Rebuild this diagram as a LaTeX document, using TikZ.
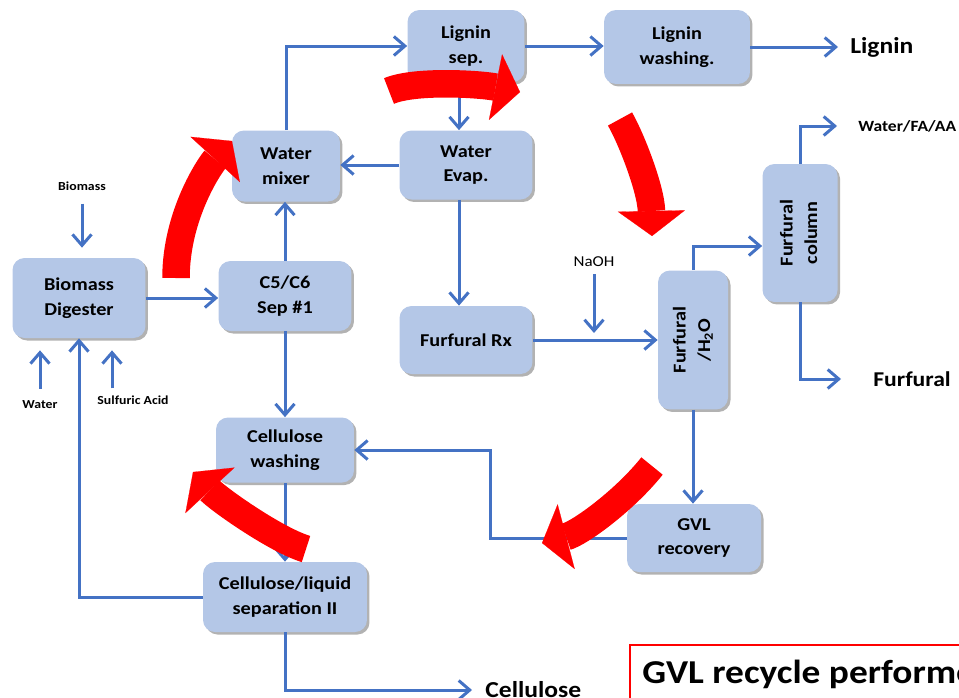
\documentclass[tikz,border=0pt]{standalone}
\usepackage{fontspec}
\setmainfont{Carlito}[FakeStretch=1.12]
\usepackage{graphicx}
\usetikzlibrary{arrows.meta,shadows}
\definecolor{pfill}{HTML}{B4C7E7}
\definecolor{pline}{HTML}{4472C4}
\tikzset{
  unit/.style   = {fill=pfill, rounded corners=2.4mm, align=center, inner sep=1pt,
                   font=\fontsize{10.3}{14}\selectfont\bfseries,
                   drop shadow={shadow xshift=0.5mm, shadow yshift=-0.5mm,
                                opacity=0.3, fill=black}},
  flow/.style   = {-{Straight Barb[length=2.2mm,width=3.8mm]}, pline, line width=0.6mm},
  recyc/.style  = {red, line width=5.5mm,
                   -{Triangle[length=5mm,width=13.4mm,line width=0.1pt]}},
  inlbl/.style  = {inner sep=0pt, font=\fontsize{7}{8}\selectfont\bfseries},
  outlbl/.style = {inner sep=0pt, anchor=west, font=\fontsize{13}{15}\selectfont\bfseries},
}
\begin{document}
\begin{tikzpicture}[x=0.02cm,y=-0.02cm]
\useasboundingbox (0,0) rectangle (959,697);
\clip (0,0) rectangle (959,697);
% process units
\node[unit, minimum width=26.6mm, minimum height=16mm]   (dig)   at (79,298)  {Biomass\\Digester};
\node[unit, minimum width=26.6mm, minimum height=14mm]   (sep1)  at (285,296) {C5/C6\\Sep \#1};
\node[unit, minimum width=21.6mm, minimum height=14.2mm] (mix)   at (286,166) {Water\\mixer};
\node[unit, minimum width=23.4mm, minimum height=14.4mm] (lsep)  at (466,46)  {Lignin\\sep.};
\node[unit, minimum width=29.2mm, minimum height=14.8mm] (lwash) at (677,47)  {Lignin\\washing.};
\node[unit, minimum width=26.6mm, minimum height=13.8mm] (evap)  at (466,165) {Water\\Evap.};
\node[unit, minimum width=26.6mm, minimum height=13.6mm] (frx)   at (466,340) {Furfural Rx};
\node[unit, minimum width=14mm, minimum height=27.8mm]   (fh2o)  at (693,340)
  {\rotatebox{90}{\begin{tabular}{@{}c@{}}Furfural\\/H\textsubscript{2}O\end{tabular}}};
\node[unit, minimum width=15mm, minimum height=27.6mm]   (fcol)  at (800,233)
  {\rotatebox{90}{\begin{tabular}{@{}c@{}}Furfural\\column\end{tabular}}};
\node[unit, minimum width=26.8mm, minimum height=13.6mm] (gvl)   at (694,538) {GVL\\recovery};
\node[unit, minimum width=27.6mm, minimum height=13mm]   (cwash) at (285,450) {Cellulose\\washing};
\node[unit, minimum width=32.8mm, minimum height=14mm]   (clsep) at (285,597) {Cellulose/liquid\\separation II};
% feeds and products
\node[inlbl] (bio)  at (82,186)  {Biomass};
\node[inlbl] (wat)  at (40,405)  {Water};
\node[inlbl] (sulf) at (133,400) {Sulfuric Acid};
\node[inner sep=0pt, font=\fontsize{8.6}{10}\selectfont] (naoh) at (594,262) {NaOH};
\node[outlbl] (lig)  at (850,47)  {Lignin};
\node[outlbl, font=\fontsize{8.9}{10}\selectfont\bfseries] (wfa) at (858,126) {Water/FA/AA};
\node[outlbl, font=\fontsize{12}{14}\selectfont\bfseries] (furf) at (873,379) {Furfural};
\node[outlbl] (cell) at (485,690) {Cellulose};
% streams
\draw[flow, shorten <=2.6mm, shorten >=2mm] (bio.south) -- (bio.south |- dig.north);
\draw[flow, shorten <=2.4mm, shorten >=2.4mm] (wat.north) -- (wat.north |- dig.south);
\draw[flow, shorten <=1.4mm, shorten >=2.4mm] ([xshift=-4.2mm]sulf.north) -- ([xshift=-4.2mm]sulf.north |- dig.south);
\draw[flow] (dig.east) -- (dig.east -| sep1.west);
\draw[flow] (sep1.north) -- (sep1.north |- mix.south);
\draw[flow] (sep1.south) -- (sep1.south |- cwash.north);
\draw[flow] (mix.north) |- (lsep.west);
\draw[flow] (lsep.east) -- (lsep.east -| lwash.west);
\draw[flow, shorten >=2.4mm] (lwash.east) -- (lig.west);
\draw[flow] ([xshift=-1.4mm]lsep.south) -- ([xshift=-1.4mm]lsep.south |- evap.north);
\draw[flow] (evap.west) -- (evap.west -| mix.east);
\draw[flow] ([xshift=-1.4mm]evap.south) -- ([xshift=-1.4mm]evap.south |- frx.north);
\draw[flow] (frx.east) -- (frx.east -| fh2o.west);
\draw[flow, shorten <=1.4mm, shorten >=1.4mm] (naoh.south) -- (naoh.south |- frx.east);
\draw[flow] (fh2o.north) |- ([yshift=-2.6mm]fcol.west);
\draw[flow, shorten >=4.2mm] (fcol.north) |- (wfa.west);
\draw[flow, shorten >=6.4mm] (fcol.south) |- (furf.west);
\draw[flow] (fh2o.south) -- (fh2o.south |- gvl.north);
\draw[flow] (gvl.west) -- ++(-136,0) |- (cwash.east);
\draw[flow] (cwash.south) -- (cwash.south |- clsep.north);
\draw[flow] (clsep.west) -| (dig.south);
\draw[flow, shorten >=2.6mm] (clsep.south) |- (cell.west);
% GVL recycle loop
\draw[recyc] (176,278) .. controls (176,215) and (210,165) .. (232,141);
\draw[recyc] (389,91) .. controls (415,80) and (480,84) .. (520,92);
\draw[recyc] (620,119) .. controls (632,140) and (651,190) .. (652,236);
\draw[recyc] (652,466) .. controls (625,500) and (580,533) .. (542,543);
\draw[recyc] (306,549) .. controls (276,540) and (218,499) .. (193,472);
% note
\draw[red, line width=0.3mm] (630,645) rectangle (980,720);
\node[anchor=base west, inner sep=0pt, font=\fontsize{19}{22}\selectfont\bfseries] (note) at (642,683) {GVL recycle performe};
\end{tikzpicture}
\end{document}
